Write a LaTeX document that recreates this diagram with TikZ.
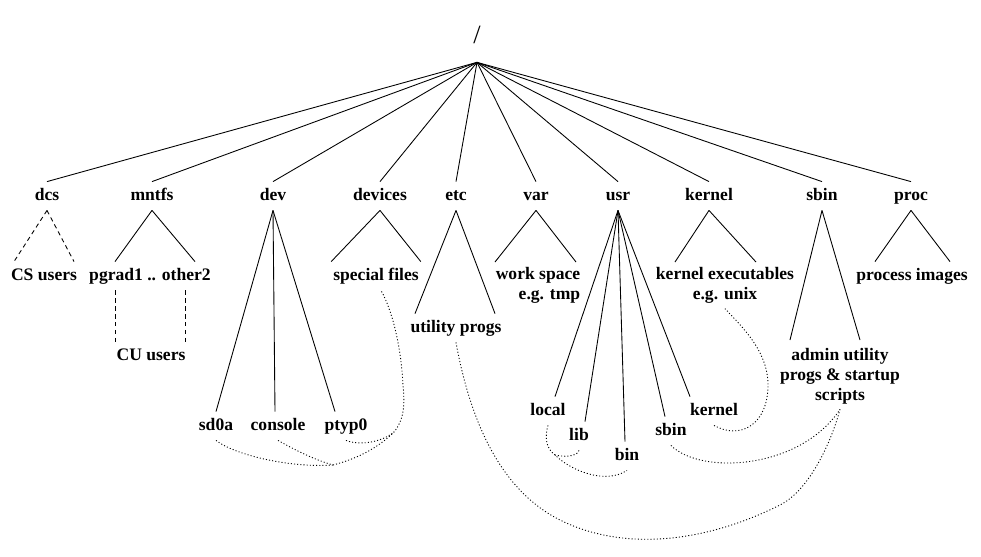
\documentclass[tikz,border=0pt]{standalone}
\usepackage{fontspec}
\setmainfont{Liberation Serif}
\usetikzlibrary{positioning, calc}

\begin{document}
\begin{tikzpicture}[x=0.02cm, y=-0.02cm,
  dirnode/.style={font=\fontsize{10}{11.3}\selectfont\bfseries, inner xsep=1pt, inner ysep=3.5pt, text height=7pt, text depth=2pt},
  dirtext/.style={font=\fontsize{10}{11.3}\selectfont\bfseries, inner xsep=1pt, inner ysep=0.1cm, anchor=north},
  rootnode/.style={font=\fontsize{15}{18}\selectfont, inner sep=0pt, minimum height=1.08cm},
  branch/.style={line width=0.5pt},
  dashbranch/.style={line width=0.5pt, dash pattern=on 2.5pt off 2pt},
  link/.style={line width=0.5pt, dash pattern=on 0.6pt off 1.2pt}]
\useasboundingbox (0,0) rectangle (981,556);

  \draw (477,35)  node[rootnode](root) {/};

  \draw (47,196)  node[dirnode](dcs) {dcs};
  \draw (152,196) node[dirnode](mntfs) {mntfs};
  \draw (273,196) node[dirnode](dev) {dev};
  \draw (380,196) node[dirnode](devices) {devices};
  \draw (456,196) node[dirnode](etc) {etc};
  \draw (536,196) node[dirnode](var) {var};
  \draw (618,196) node[dirnode](usr) {usr};
  \draw (709,196) node[dirnode](kernel) {kernel};
  \draw (822,196) node[dirnode](sbin) {sbin};
  \draw (911,196) node[dirnode](proc) {proc};

  \draw (44,276)  node[dirnode](csusers) {CS users};
  \draw (150,276) node[dirnode](pgrad) {pgrad1 .. other2};
  \draw (151,356) node[dirnode](cuusers) {CU users};
  \draw (376,276) node[dirnode](special) {special files};
  \draw (456,328) node[dirnode](utility) {utility progs};
  \draw (538,262) node[dirtext, align=right](workspace) {work space\\e.g. tmp};
  \draw (725,262) node[dirtext, align=center](kernexec) {kernel executables\\e.g. unix};
  \draw (840,343) node[dirtext, align=center](admin) {admin utility\\progs \& startup\\scripts};
  \draw (912,276) node[dirnode](procimg) {process images};

  \draw (216,426) node[dirnode](sdoa) {sd0a};
  \draw (278,426) node[dirnode](console) {console};
  \draw (346,426) node[dirnode](ptyp) {ptyp0};

  \draw (548,411) node[dirnode](local) {local};
  \draw (579,436) node[dirnode](lib) {lib};
  \draw (627,456) node[dirnode](bin) {bin};
  \draw (671,431) node[dirnode](usbin) {sbin};
  \draw (714,411) node[dirnode](ukernel) {kernel};

  \coordinate (devjoin) at (333,465);
  \coordinate (ptjoin) at (394,432);
  \coordinate (libjoin) at (555,455);

\path (root.south) edge[branch] (dcs.north)
                   edge[branch] (mntfs.north)
                   edge[branch] (dev.north)
                   edge[branch] (devices.north)
                   edge[branch] (etc.north)
                   edge[branch] (var.north)
                   edge[branch] (usr.north)
                   edge[branch] (kernel.north)
                   edge[branch] (sbin.north)
                   edge[branch] (proc.north);

\path (dcs.south) edge[dashbranch] ($(csusers.north)+(-30,0)$)
                  edge[dashbranch] ($(csusers.north)+(30,0)$)
      (mntfs.south) edge[branch] ($(pgrad.north)+(-35,0)$)
                    edge[branch] ($(pgrad.north)+(45,0)$)
      ($(pgrad.south)+(-35,0)$) edge[dashbranch] ($(cuusers.north)+(-36,0)$)
      ($(pgrad.south)+(35,0)$) edge[dashbranch] ($(cuusers.north)+(34,0)$)
      (dev.south) edge[branch] (sdoa.north)
                  edge[branch] ($(console.north)+(-3,0)$)
                  edge[branch] ($(ptyp.north)+(-11,0)$)
      (devices.south) edge[branch] (special.north west)
                      edge[branch] (special.north east)
      (etc.south) edge[branch] ($(utility.north)+(-41,0)$)
                  edge[branch] ($(utility.north)+(39,0)$)
      (var.south) edge[branch] ($(workspace.north)+(-43,0)$)
                  edge[branch] ($(workspace.north)+(38,0)$)
      (usr.south) edge[branch] ($(local.north)+(7,0)$)
                  edge[branch] ($(lib.north)+(6,0)$)
                  edge[branch] ($(bin.north)+(-2,0)$)
                  edge[branch] ($(usbin.north)+(-6,0)$)
                  edge[branch] ($(ukernel.north)+(-24,0)$)
      (kernel.south) edge[branch] ($(kernexec.north)+(-50,0)$)
                     edge[branch] ($(kernexec.north)+(31,0)$)
      (sbin.south) edge[branch] ($(admin.north)+(-50,-3)$)
                   edge[branch] ($(admin.north)+(20,-3)$)
      (proc.south) edge[branch] ($(procimg.north)+(-37,0)$)
                   edge[branch] ($(procimg.north)+(38,0)$);

% dotted links
\draw[link] (sdoa.south) .. controls (235,455) and (290,468) .. (devjoin);
\draw[link] (console.south) .. controls (295,450) and (315,460) .. (devjoin);
\draw[link] (devjoin) .. controls (360,458) and (380,446) .. (ptjoin)
            .. controls (404,420) and (405,405) .. (403,385)
            .. controls (401,345) and (392,310) .. ($(special.south)+(5,0)$);
\draw[link] (ptyp.south) .. controls (360,446) and (382,442) .. (ptjoin);
\draw[link] (utility.south) .. controls (470,420) and (500,490) .. (560,520)
            .. controls (620,550) and (700,545) .. (780,505)
            .. controls (810,490) and (832,440) .. (admin.south);
\draw[link] (usbin.south) .. controls (700,475) and (800,470) .. (admin.south);
\draw[link] (ukernel.south) .. controls (740,440) and (768,425) .. (768,385)
            .. controls (768,350) and (740,325) .. (kernexec.south);
\draw[link] (local.south) .. controls (545,435) and (545,448) .. (libjoin)
            .. controls (570,470) and (605,485) .. (bin.south);
\draw[link] (lib.south) .. controls (578,455) and (568,458) .. (libjoin);
\end{tikzpicture}
\end{document}
